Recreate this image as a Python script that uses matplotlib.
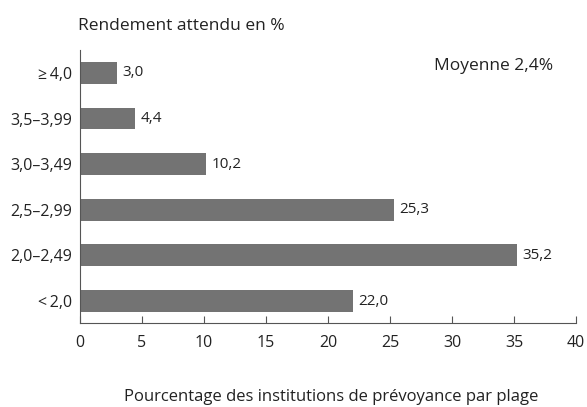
from matplotlib import pyplot as plt

categories = ['<\u20092,0', '2,0–2,49', '2,5–2,99', '3,0–3,49', '3,5–3,99', '≥\u20094,0']
values = [22.0, 35.2, 25.3, 10.2, 4.4, 3.0]
value_labels = ['22,0', '35,2', '25,3', '10,2', '4,4', '3,0']
xticks = [0, 5, 10, 15, 20, 25, 30, 35, 40]

plt.rcParams['font.family'] = ['Open Sans', 'DejaVu Sans']
txt = '#222222'

fig = plt.figure(figsize=(5.87, 4.07), dpi=100)
ax = fig.add_axes([0.1363, 0.2064, 0.845, 0.6706])

y = list(range(len(categories)))
ax.barh(y, values, height=0.48, color='#737373')
for yi, v, lab in zip(y, values, value_labels):
    ax.text(v + 0.45, yi, lab, va='center', ha='left', fontsize=11, color=txt)

ax.set_xlim(0, 40)
ax.set_ylim(-0.48, 5.5)
ax.set_yticks(y)
ax.set_yticklabels(categories, fontsize=11.5, color=txt)
ax.set_xticks(xticks)
ax.set_xticklabels([str(t) for t in xticks], fontsize=11.5, color=txt)
ax.tick_params(axis='y', length=0, pad=5.5)
ax.tick_params(axis='x', direction='in', length=5, width=0.8, color='#555555', pad=9)
for s in ['top', 'right']:
    ax.spines[s].set_visible(False)
for s in ['left', 'bottom']:
    ax.spines[s].set_color('#555555')
    ax.spines[s].set_linewidth(0.8)

fig.text(78 / 587, 1 - 26 / 407, 'Rendement attendu en %', fontsize=12.5, color=txt, va='center', ha='left')
ax.text(0.954, 0.941, 'Moyenne 2,4%', transform=ax.transAxes, fontsize=12.5, color=txt, va='center', ha='right')
fig.text(331 / 587, 1 - 401 / 407, 'Pourcentage des institutions de prévoyance par plage', fontsize=12, color=txt, va='baseline', ha='center')

fig.savefig('out.png', dpi=100)
